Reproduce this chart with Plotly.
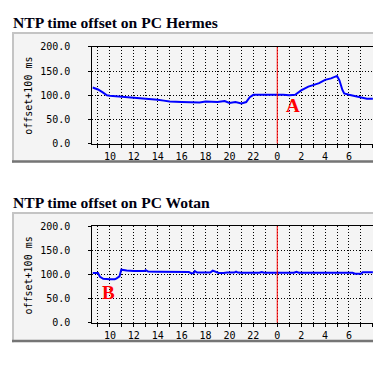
import plotly.graph_objects as go

# ---------------- data ----------------
hermes_hours = [8.55, 9.0, 9.4, 9.75, 10.0, 11.0, 12.2, 13.0, 14.0, 14.5, 15.0, 16.0, 17.0, 17.5,
                18.0, 18.5, 19.0, 19.6, 20.0, 20.5, 21.0, 21.4, 21.7, 22.0, 23.0, 24.0, 24.5,
                25.0, 25.5, 26.0, 26.6, 27.0, 27.5, 28.0, 28.5, 29.0, 29.2, 29.45, 29.6, 30.0,
                30.5, 31.0, 31.5, 32.0]
hermes_offset = [116, 112, 106, 100, 99, 97, 96, 93, 91, 89, 87, 86, 85, 85,
                 87, 86, 86, 88, 84, 86, 83, 86, 96, 101, 101, 102, 101,
                 100, 101, 110, 118, 121, 125, 132, 135, 140, 131, 111, 104, 101,
                 98, 95, 93, 93]

wotan_hours = [8.55, 9.0, 9.17, 9.44, 10.0, 10.4, 10.56, 10.8, 10.95, 11.4, 12.0, 12.9, 13.0, 13.2,
               14.0, 15.0, 16.0, 16.6, 16.8, 17.0, 17.1, 17.3, 18.0, 18.4, 18.6, 18.9, 19.1,
               19.5, 19.8, 20.4, 20.55, 20.7, 21.0, 22.5, 22.7, 22.9, 25.4, 25.6, 25.8, 30.3,
               30.5, 31.0, 31.15, 32.0]
wotan_offset = [103, 103, 95, 91, 90, 90, 92, 96, 110, 108, 107, 107, 109, 106,
                105.5, 105.5, 105, 105, 102.5, 103, 107, 104, 104, 104, 108, 105, 103,
                103, 104, 104, 106, 104, 103.5, 103.5, 105, 103.5, 103.5, 105.5, 103.5, 103.5,
                101.5, 101.5, 104.5, 104.5]

hour_ticks = list(range(9, 33))
hour_labels = [str(h % 24) if h % 2 == 0 else "" for h in hour_ticks]
y_ticks = [0, 50, 100, 150, 200]
y_labels = ["0.0", "50.0", "100.0", "150.0", "200.0"]
titles = ["NTP time offset on PC Hermes", "NTP time offset on PC Wotan"]

# ---------------- layout helpers ----------------
W, H = 373, 369


def px(x):
    return x / W


def py(y):
    return 1 - y / H


PANEL_BG = "#f4f4f4"
LIGHT = "#c4c4c4"
DARK = "#757575"
MONO = "DejaVu Sans Mono"
SERIF = "Liberation Serif"

fig = go.Figure()
fig.add_trace(go.Scatter(x=hermes_hours, y=hermes_offset, mode="lines",
                         line=dict(color="#0000ff", width=2), xaxis="x", yaxis="y",
                         showlegend=False, hoverinfo="skip"))
fig.add_trace(go.Scatter(x=wotan_hours, y=wotan_offset, mode="lines",
                         line=dict(color="#0000ff", width=2), xaxis="x2", yaxis="y2",
                         showlegend=False, hoverinfo="skip"))

x_left = 92.3
x_range = [8.525, 32.01]

panels = [
    dict(top=42.3, bot=142.3, btop=27, bbot=162, ty=17.5, ly=92.5),
    dict(top=227.5, bot=327.5, btop=213, bbot=347.5, ty=203, ly=278.3),
]

xaxis_common = dict(range=x_range, tickmode="array", tickvals=hour_ticks, ticktext=hour_labels,
                    showgrid=True, gridcolor="#000000", gridwidth=1, griddash="1px,2px",
                    showline=True, linecolor="#000000", linewidth=1, mirror=True,
                    ticks="outside", ticklen=3, tickcolor="#000000", tickwidth=1,
                    tickfont=dict(family=MONO, size=10, color="#000000"),
                    zeroline=False, fixedrange=True)
yaxis_common = dict(range=[0, 200], tickmode="array", tickvals=y_ticks, ticktext=y_labels,
                    showgrid=True, gridcolor="#000000", gridwidth=1, griddash="1px,2px",
                    showline=True, linecolor="#000000", linewidth=1,
                    ticks="outside", ticklen=3, tickcolor="#000000", tickwidth=1,
                    ticklabelstandoff=16,
                    tickfont=dict(family=MONO, size=10, color="#000000"),
                    zeroline=False, fixedrange=True)

shapes = []
annotations = []
for i, p in enumerate(panels):
    shapes.append(dict(type="rect", xref="paper", yref="paper", x0=px(12), x1=px(W + 5),
                       y0=py(p["bbot"]), y1=py(p["btop"]), fillcolor=PANEL_BG,
                       line=dict(width=0), layer="below"))
    shapes.append(dict(type="rect", xref="paper", yref="paper", x0=px(12), x1=px(W + 5),
                       y0=py(p["btop"] + 2), y1=py(p["btop"]), fillcolor=LIGHT,
                       line=dict(width=0), layer="below"))
    shapes.append(dict(type="rect", xref="paper", yref="paper", x0=px(12), x1=px(14),
                       y0=py(p["bbot"]), y1=py(p["btop"]), fillcolor=LIGHT,
                       line=dict(width=0), layer="below"))
    shapes.append(dict(type="rect", xref="paper", yref="paper", x0=px(12), x1=px(W + 5),
                       y0=py(p["bbot"]), y1=py(p["bbot"] - 2.5), fillcolor=DARK,
                       line=dict(width=0), layer="below"))
    xa = "x" if i == 0 else "x2"
    ya = "y" if i == 0 else "y2"
    shapes.append(dict(type="line", xref=xa, yref=ya, x0=24, x1=24, y0=0, y1=200,
                       line=dict(color="#ff0000", width=1)))
    annotations.append(dict(text="<b>" + titles[i] + "</b>", xref="paper", yref="paper",
                            x=px(11), y=py(p["ty"]), xanchor="left", yanchor="middle",
                            showarrow=False,
                            font=dict(family=SERIF, size=15.6, color="#000010")))
    annotations.append(dict(text="offset+100 ms", xref="paper", yref="paper",
                            x=px(28.3), y=py(p["ly"]), xanchor="center", yanchor="middle",
                            textangle=-90, showarrow=False,
                            font=dict(family=MONO, size=10, color="#000000")))

annotations.append(dict(text="<b>A</b>", xref="x", yref="y", x=25.33, y=79,
                        showarrow=False, font=dict(family=SERIF, size=19, color="#ff0000")))
annotations.append(dict(text="<b>B</b>", xref="x2", yref="y2", x=9.92, y=63,
                        showarrow=False, font=dict(family=SERIF, size=19, color="#ff0000")))

fig.update_layout(
    width=W, height=H,
    margin=dict(l=0, r=0, t=0, b=0),
    paper_bgcolor="#ffffff",
    plot_bgcolor=PANEL_BG,
    xaxis=dict(domain=[px(x_left), 1], anchor="y", **xaxis_common),
    yaxis=dict(domain=[py(panels[0]["bot"]), py(panels[0]["top"])], anchor="x", **yaxis_common),
    xaxis2=dict(domain=[px(x_left), 1], anchor="y2", **xaxis_common),
    yaxis2=dict(domain=[py(panels[1]["bot"]), py(panels[1]["top"])], anchor="x2", **yaxis_common),
    shapes=shapes,
    annotations=annotations,
    showlegend=False,
)

fig.write_html("out.html", config={"displayModeBar": False},
               post_script="document.body.style.margin='0';document.body.style.overflow='hidden';")
